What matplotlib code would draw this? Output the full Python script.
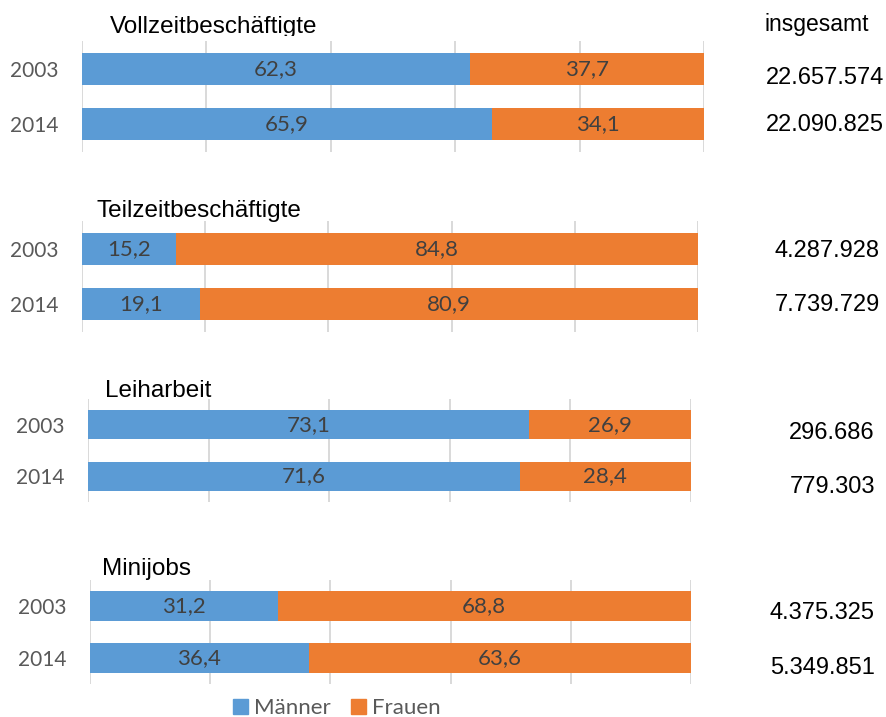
import matplotlib.pyplot as plt
from matplotlib.patches import Patch
from matplotlib.transforms import Bbox, TransformedBbox

# --- data ---
gruppen = ['Vollzeitbeschäftigte', 'Teilzeitbeschäftigte', 'Leiharbeit', 'Minijobs']
jahre = ['2003', '2014']
maenner = [[62.3, 65.9], [15.2, 19.1], [73.1, 71.6], [31.2, 36.4]]
frauen = [[37.7, 34.1], [84.8, 80.9], [26.9, 28.4], [68.8, 63.6]]
insgesamt = [['22.657.574', '22.090.825'], ['4.287.928', '7.739.729'],
             ['296.686', '779.303'], ['4.375.325', '5.349.851']]

BLAU = '#5B9BD5'
ORANGE = '#ED7D31'
GRID = '#D9D9D9'
GRAU = '#595959'
W, H = 887, 717

# layout in pixels: (x0, x1, ytop, ybottom), title pos, totals pos
panels = [(82, 704, 41, 152), (82, 698, 221, 332), (88, 691, 399, 502), (90, 691, 580, 684)]
titel_pos = [(110, 33), (97, 217), (105, 397), (102, 575)]
summe_pos = [(884, [78, 125]), (880, [251, 305]), (875, [433, 487]), (875, [613, 668])]

fig = plt.figure(figsize=(W / 100, H / 100), dpi=100)

def fx(x):
    return x / W

def fy(y):
    return 1 - y / H

for i, (x0, x1, yt, yb) in enumerate(panels):
    ax = fig.add_axes([fx(x0), fy(yb), (x1 - x0) / W, (yb - yt) / H])
    pos = range(len(jahre))
    ax.barh(pos, maenner[i], height=0.57, color=BLAU, zorder=2)
    ax.barh(pos, frauen[i], left=maenner[i], height=0.57, color=ORANGE, zorder=2)
    for j in pos:
        ax.text(maenner[i][j] / 2, j, f'{maenner[i][j]:.1f}'.replace('.', ','),
                ha='center', va='center', fontsize=16, color='#404040',
                family='Lato', zorder=3)
        ax.text(maenner[i][j] + frauen[i][j] / 2, j, f'{frauen[i][j]:.1f}'.replace('.', ','),
                ha='center', va='center', fontsize=16, color='#404040',
                family='Lato', zorder=3)
    ax.set_xlim(0, 100)
    ax.set_ylim(1.5, -0.5)
    ax.set_xticks([0, 20, 40, 60, 80, 100])
    ax.set_xticklabels([])
    ax.set_yticks(list(pos))
    ax.set_yticklabels(jahre, fontsize=15, color=GRAU, family='Lato')
    ax.tick_params(axis='y', length=0, pad=17)
    ax.tick_params(axis='x', length=0)
    ax.grid(axis='x', color=GRID, lw=1.4, zorder=0)
    for s in ax.spines.values():
        s.set_visible(False)

    tx, ty = titel_pos[i]
    t = fig.text(fx(tx), fy(ty), gruppen[i], fontsize=17.5, family='Liberation Sans',
                 ha='left', va='baseline', color='black')
    if i == 0:
        # title is cut off at the top of the chart area
        t.set_clip_box(TransformedBbox(Bbox([[0, fy(36)], [1, 1]]), fig.transFigure))
        t.set_clip_on(True)

    sx, sys_ = summe_pos[i]
    for j, yy in enumerate(sys_):
        fig.text(fx(sx), fy(yy), insgesamt[i][j], fontsize=17, family='Liberation Sans',
                 ha='right', va='center', color='black')

fig.text(fx(765), fy(24), 'insgesamt', fontsize=16.5, family='Liberation Sans',
         ha='left', va='center', color='black')

handles = [Patch(color=BLAU, label='Männer'), Patch(color=ORANGE, label='Frauen')]
fig.legend(handles=handles, loc='center', bbox_to_anchor=(fx(337), fy(708)), ncol=2,
           frameon=False, prop={'family': 'Lato', 'size': 16}, labelcolor=GRAU,
           handlelength=0.65, handleheight=0.65, handletextpad=0.3, columnspacing=0.9)

fig.savefig('out.png', dpi=100)
